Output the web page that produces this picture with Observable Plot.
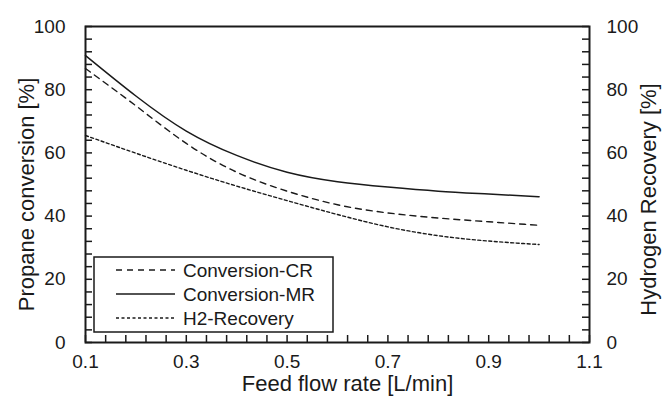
<!DOCTYPE html>
<html>
<head>
<meta charset="utf-8">
<script src="https://cdn.jsdelivr.net/npm/d3@7"></script>
<script src="https://cdn.jsdelivr.net/npm/@observablehq/plot@0.6"></script>
<style>
  html, body { margin: 0; padding: 0; background: #fff; }
  #chart { width: 662px; height: 403px; }
</style>
</head>
<body>
<div id="chart"></div>
<script>
// Feed flow rate [L/min]
const flowRate = [0.1, 0.2, 0.3, 0.4, 0.5, 0.6, 0.7, 0.8, 0.9, 1.0];
// Propane conversion, conventional reactor [%]
const conversionCR = [86.7, 74.9, 63.0, 53.9, 47.9, 43.6, 41.0, 39.4, 38.2, 37.1];
// Propane conversion, membrane reactor [%]
const conversionMR = [90.8, 78.0, 66.9, 59.2, 53.9, 50.9, 49.2, 47.9, 47.0, 46.1];
// Hydrogen recovery [%]
const h2Recovery = [65.5, 59.9, 54.5, 49.5, 44.9, 40.5, 36.6, 33.8, 32.1, 31.0];

const seriesNames = ["Conversion-CR", "Conversion-MR", "H2-Recovery"];
const seriesValues = [conversionCR, conversionMR, h2Recovery];
const seriesDash = ["6,5", null, "3,2.5"];

const xMajorTicks = [0.1, 0.3, 0.5, 0.7, 0.9, 1.1];
const xMinorTicks = d3.range(0, 26).map(i => +(0.1 + i * 0.04).toFixed(2));
const yMajorTicks = [0, 20, 40, 60, 80, 100];
const yMinorTicks = d3.range(0, 26).map(i => i * 4);

const W = 662, H = 403;
const mL = 85, mR = 73, mT = 26, mB = 61;
const fw = W - mL - mR, fh = H - mT - mB;
const font = "'Liberation Sans', Arial, sans-serif";
const ink = "#1a1a1a";

const rows = [];
seriesNames.forEach((name, s) => {
  flowRate.forEach((f, i) => rows.push({series: name, x: f, y: seriesValues[s][i]}));
});

const lineMarks = seriesNames.map((name, s) =>
  Plot.line(rows.filter(d => d.series === name), {
    x: "x", y: "y", curve: "natural",
    stroke: ink, strokeWidth: s === 1 ? 1.5 : 1.4,
    strokeDasharray: seriesDash[s] || undefined
  })
);

const chart = Plot.plot({
  width: W, height: H,
  marginLeft: mL, marginRight: mR, marginTop: mT, marginBottom: mB,
  style: {fontFamily: font, background: "#fff", color: ink, overflow: "visible"},
  x: {domain: [0.1, 1.1], axis: null},
  y: {domain: [0, 100], axis: null},
  marks: [
    // inward minor/major ticks
    Plot.tickY(yMinorTicks, {y: d => d, insetRight: fw - 7, stroke: ink, strokeWidth: 1.5}),
    Plot.tickY(yMinorTicks, {y: d => d, insetLeft: fw - 7, stroke: ink, strokeWidth: 1.5}),
    Plot.tickX(xMinorTicks, {x: d => d, insetTop: fh - 7, stroke: ink, strokeWidth: 1.5}),
    ...lineMarks,
    Plot.frame({stroke: ink, strokeWidth: 2}),
    Plot.axisX({ticks: xMajorTicks, tickSize: 0, tickPadding: 12, tickFormat: d3.format(".1f"), fontSize: 19, label: null}),
    Plot.axisY({anchor: "left", ticks: yMajorTicks, tickSize: 0, tickPadding: 20, fontSize: 19, label: null}),
    Plot.axisY({anchor: "right", ticks: yMajorTicks, tickSize: 0, tickPadding: 17, fontSize: 19, label: null}),
    Plot.text(["Feed flow rate [L/min]"], {frameAnchor: "bottom", textAnchor: "middle", dy: 48, dx: 10, fontSize: 22, fill: ink}),
    Plot.text(["Propane conversion [%]"], {frameAnchor: "left", textAnchor: "middle", dx: -59, dy: 10, rotate: -90, fontSize: 22, fill: ink}),
    Plot.text(["Hydrogen Recovery [%]"], {frameAnchor: "right", textAnchor: "middle", dx: 59, dy: 15, rotate: -90, fontSize: 22, fill: ink})
  ]
});

// Legend box drawn into the same SVG
const svg = d3.select(chart);
const lg = svg.append("g").attr("class", "legend").attr("text-anchor", "start");
lg.append("rect").attr("x", 94).attr("y", 257).attr("width", 239).attr("height", 75)
  .attr("fill", "#fff").attr("stroke", ink).attr("stroke-width", 1.5);
const rowY = [270, 294, 318];
seriesNames.forEach((name, s) => {
  const ln = lg.append("line").attr("x1", 116).attr("x2", 175).attr("y1", rowY[s]).attr("y2", rowY[s])
    .attr("stroke", ink).attr("stroke-width", s === 1 ? 1.5 : 1.4);
  if (seriesDash[s]) ln.attr("stroke-dasharray", seriesDash[s]);
  lg.append("text").attr("x", 183).attr("y", rowY[s]).attr("dy", "0.35em")
    .attr("text-anchor", "start")
    .attr("font-size", 19).attr("font-family", font).attr("fill", ink).text(name);
});

document.getElementById("chart").appendChild(chart);
</script>
</body>
</html>
